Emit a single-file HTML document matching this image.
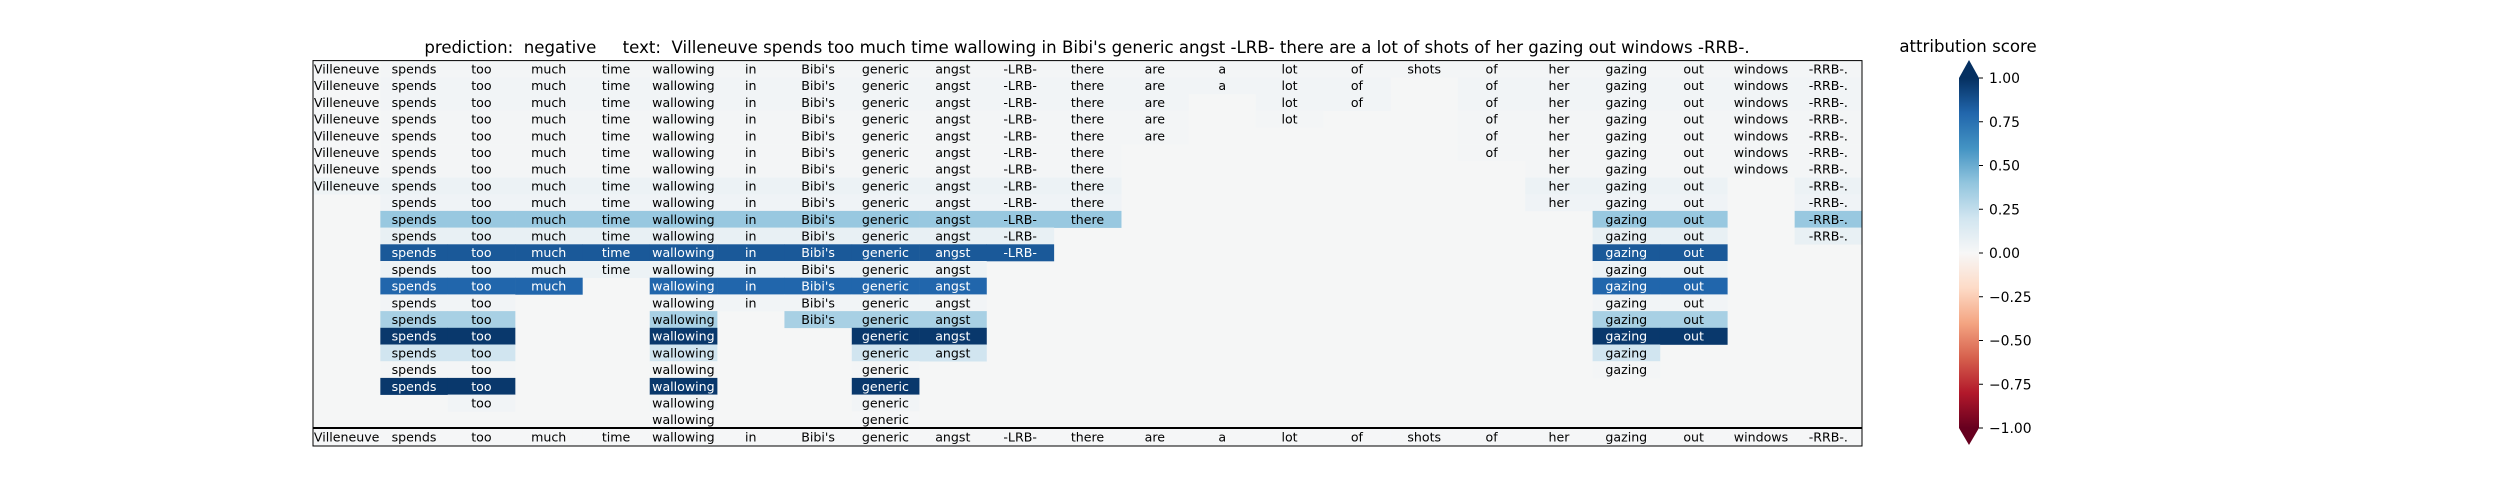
<!DOCTYPE html>
<html><head><meta charset="utf-8">
<style>
html,body{margin:0;padding:0;background:#fff;}
svg{display:block;font-family:"DejaVu Sans","Liberation Sans",sans-serif;}
</style></head>
<body>
<svg id="chart" width="2500" height="500" viewBox="0 0 2500 500" xmlns="http://www.w3.org/2000/svg">
  <text x="1087" y="53" font-size="16.6" text-anchor="middle" xml:space="preserve" fill="#000">prediction:  negative     text:  Villeneuve spends too much time wallowing in Bibi's generic angst -LRB- there are a lot of shots of her gazing out windows -RRB-.</text>
  <g id="cells"></g>
  <g id="bottom"></g>
  <rect x="313" y="60.6" width="1549" height="367.4" fill="none" stroke="#000" stroke-width="1"></rect>
  <rect x="313" y="428" width="1549" height="18" fill="none" stroke="#000" stroke-width="1"></rect>
  <line x1="313" x2="1862" y1="428" y2="428" stroke="#000" stroke-width="2"></line>
  <defs>
    <linearGradient id="cbgrad" x1="0" y1="1" x2="0" y2="0">
      <stop offset="0" stop-color="rgb(103,0,31)"/><stop offset="0.1" stop-color="rgb(178,24,43)"/>
      <stop offset="0.2" stop-color="rgb(214,96,77)"/><stop offset="0.3" stop-color="rgb(244,165,130)"/>
      <stop offset="0.4" stop-color="rgb(253,219,199)"/><stop offset="0.5" stop-color="rgb(247,247,247)"/>
      <stop offset="0.6" stop-color="rgb(209,229,240)"/><stop offset="0.7" stop-color="rgb(146,197,222)"/>
      <stop offset="0.8" stop-color="rgb(67,147,195)"/><stop offset="0.9" stop-color="rgb(33,102,172)"/>
      <stop offset="1" stop-color="rgb(5,48,97)"/>
    </linearGradient>
  </defs>
  <text x="1968" y="52" font-size="16.6" text-anchor="middle" fill="#000">attribution score</text>
  <polygon points="1959,78 1969,60 1979,78" fill="rgb(5,48,97)"></polygon>
  <rect x="1959" y="78" width="20" height="350" fill="url(#cbgrad)"></rect>
  <polygon points="1959,428 1969,445 1979,428" fill="rgb(103,0,31)"></polygon>
  <g id="cbticks"></g>
</svg>
<script>
const tokens = ["Villeneuve","spends","too","much","time","wallowing","in","Bibi's","generic","angst","-LRB-","there","are","a","lot","of","shots","of","her","gazing","out","windows","-RRB-."];
const _ = null;
const attributions = [
 [.01,.02,.02,.02,.02,.02,.02,.02,.02,.02,.02,.02,.02,.02,.02,.02,.02,.02,.02,.02,.02,.02,.02],
 [.01,.03,.03,.03,.03,.03,.03,.03,.03,.03,.03,.03,.03,.03,.03,.03,_,.03,.03,.03,.03,.03,.03],
 [.01,.03,.03,.03,.03,.03,.03,.03,.03,.03,.03,.03,.03,_,.03,.03,_,.03,.03,.03,.03,.03,.03],
 [.01,.02,.02,.02,.02,.02,.02,.02,.02,.02,.02,.02,.02,_,.02,_,_,.02,.02,.02,.02,.02,.02],
 [.01,.02,.02,.02,.02,.02,.02,.02,.02,.02,.02,.02,.02,_,_,_,_,.02,.02,.02,.02,.02,.02],
 [.01,.02,.02,.02,.02,.02,.02,.02,.02,.02,.02,.02,_,_,_,_,_,.02,.02,.02,.02,.02,.02],
 [.01,.02,.02,.02,.02,.02,.02,.02,.02,.02,.02,.02,_,_,_,_,_,_,.02,.02,.02,.02,.02],
 [.05,.06,.06,.06,.06,.06,.06,.06,.06,.06,.06,.06,_,_,_,_,_,_,.06,.06,.06,_,.06],
 [_,.04,.04,.04,.04,.04,.04,.04,.04,.04,.04,.04,_,_,_,_,_,_,.04,.04,.04,_,.04],
 [_,.38,.38,.38,.38,.38,.38,.38,.38,.38,.38,.38,_,_,_,_,_,_,_,.38,.38,_,.38],
 [_,.08,.08,.08,.08,.08,.08,.08,.08,.08,.08,_,_,_,_,_,_,_,_,.08,.08,_,.08],
 [_,.85,.85,.85,.85,.85,.85,.85,.85,.85,.85,_,_,_,_,_,_,_,_,.85,.85,_,_],
 [_,.06,.06,.06,.06,.06,.06,.06,.06,.06,_,_,_,_,_,_,_,_,_,.06,.06,_,_],
 [_,.8,.8,.8,_,.8,.8,.8,.8,.8,_,_,_,_,_,_,_,_,_,.8,.8,_,_],
 [_,.03,.03,_,_,.03,.03,.03,.03,.03,_,_,_,_,_,_,_,_,_,.03,.03,_,_],
 [_,.33,.33,_,_,.33,_,.33,.33,.33,_,_,_,_,_,_,_,_,_,.33,.33,_,_],
 [_,.97,.97,_,_,.97,_,_,.97,.97,_,_,_,_,_,_,_,_,_,.97,.97,_,_],
 [_,.2,.2,_,_,.2,_,_,.2,.2,_,_,_,_,_,_,_,_,_,.2,_,_,_],
 [_,.02,.02,_,_,.02,_,_,.02,_,_,_,_,_,_,_,_,_,_,.02,_,_,_],
 [_,.97,.97,_,_,.97,_,_,.97,_,_,_,_,_,_,_,_,_,_,_,_,_,_],
 [_,_,.03,_,_,.03,_,_,.03,_,_,_,_,_,_,_,_,_,_,_,_,_,_],
 [_,_,_,_,_,.01,_,_,.01,_,_,_,_,_,_,_,_,_,_,_,_,_,_]
];
const inputRowValues = [.01,.01,.01,.01,.01,.01,.01,.01,.01,.01,.01,.01,.01,.01,.01,.01,.01,.01,.01,.01,.01,.01,.01];
const cbTickValues = [1,0.75,0.5,0.25,0,-0.25,-0.5,-0.75,-1];
const cbTickLabels = ["1.00","0.75","0.50","0.25","0.00","\u22120.25","\u22120.50","\u22120.75","\u22121.00"];

const NS = "http://www.w3.org/2000/svg";
const X0 = 313, X1 = 1862, Y0 = 60.6, Y1 = 428;
const nCols = tokens.length, nRows = attributions.length;
const colW = (X1 - X0) / nCols, rowH = (Y1 - Y0) / nRows;
const xPos = c => X0 + c * colW;
const yPos = r => Y0 + r * rowH;
const stops = [[103,0,31],[178,24,43],[214,96,77],[244,165,130],[253,219,199],[247,247,247],[209,229,240],[146,197,222],[67,147,195],[33,102,172],[5,48,97]];
function cmap(v){
  let t = (Math.max(-1, Math.min(1, v)) + 1) / 2 * 10;
  let i = Math.min(9, Math.floor(t)), f = t - i;
  const a = stops[i], b = stops[i+1];
  return `rgb(${a.map((x,k)=>Math.round(x+(b[k]-x)*f)).join(',')})`;
}
const cbY = v => 78 + (1 - v) / 2 * 350;

function mk(tag, attrs){ const e = document.createElementNS(NS, tag); for (const k in attrs) e.setAttribute(k, attrs[k]); return e; }

const cellsG = document.getElementById('cells');
const bg = mk('rect', {x:X0, y:Y0, width:X1-X0, height:Y1-Y0, fill:'#f5f6f6'});


cellsG.appendChild(bg);

function drawCell(g, r, c, v, y, h, name){
  const rect = mk('rect', {x:xPos(c), y:y, width:colW+0.3, height:h+0.3, fill:cmap(v)});
  
  
  g.appendChild(rect);
  const t = mk('text', {x:xPos(c)+colW/2, y:y+h/2+4.5, 'font-size':12.6, 'text-anchor':'middle', fill: v > 0.6 ? '#fff' : '#000'});
  t.textContent = tokens[c];
  
  
  g.appendChild(t);
}
for (let r = 0; r < nRows; r++){
  for (let c = 0; c < nCols; c++){
    const v = attributions[r][c];
    if (v === null) continue;
    drawCell(cellsG, r, c, v, yPos(r), rowH, 'step' + r);
  }
}
const botG = document.getElementById('bottom');
for (let c = 0; c < nCols; c++) drawCell(botG, 0, c, inputRowValues[c], 428, 18, 'input');

const tg = document.getElementById('cbticks');
cbTickValues.forEach((v,i)=>{
  const y = cbY(v);
  const l = mk('line', {x1:1979, x2:1983, y1:y, y2:y, stroke:'#000', 'stroke-width':1});
  
  
  tg.appendChild(l);
  const t = mk('text', {x:1989, y:y+5, 'font-size':13.9, fill:'#000'});
  t.textContent = cbTickLabels[i];
  
  
  tg.appendChild(t);
});
</script>
</body></html>
